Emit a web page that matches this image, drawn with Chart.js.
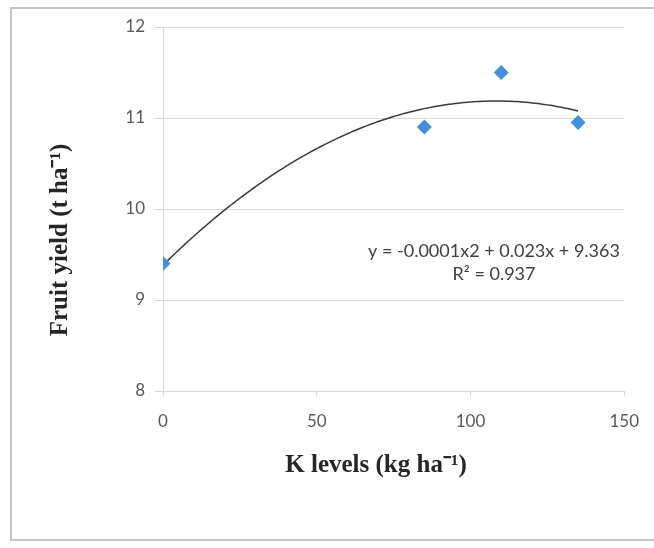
<!DOCTYPE html>
<html>
<head>
<meta charset="utf-8">
<script src="https://cdn.jsdelivr.net/npm/chart.js@4/dist/chart.umd.min.js"></script>
<style>
  html, body { margin: 0; padding: 0; background: #ffffff; }
  #wrap { width: 654px; height: 548px; position: relative; }
</style>
</head>
<body>
<div id="wrap"><canvas id="c" width="654" height="548"></canvas></div>
<script>
// Potassium level (kg/ha) and measured fruit yield (t/ha)
const kLevels = [0, 85, 110, 135];
const fruitYield = [9.4, 10.9, 11.5, 10.95];

// Axis ticks
const xTicks = [0, 50, 100, 150];
const yTicks = [8, 9, 10, 11, 12];

const xTitle = 'K levels (kg ha\u207B\u00B9)';
const yTitle = 'Fruit yield (t ha\u207B\u00B9)';
const eqLine1 = 'y = -0.0001x2 + 0.023x + 9.363';
const eqLine2 = 'R\u00B2 = 0.937';

// Second-order least-squares fit of yield on K level
function polyFit2(xs, ys) {
  const n = xs.length;
  let s = [0, 0, 0, 0, 0], t = [0, 0, 0];
  for (let i = 0; i < n; i++) {
    let p = 1;
    for (let k = 0; k <= 4; k++) { s[k] += p; if (k <= 2) t[k] += p * ys[i]; p *= xs[i]; }
  }
  const M = [[s[0], s[1], s[2], t[0]], [s[1], s[2], s[3], t[1]], [s[2], s[3], s[4], t[2]]];
  for (let i = 0; i < 3; i++) {
    for (let j = i + 1; j < 3; j++) {
      const f = M[j][i] / M[i][i];
      for (let k = i; k < 4; k++) M[j][k] -= f * M[i][k];
    }
  }
  const c = [0, 0, 0];
  for (let i = 2; i >= 0; i--) {
    let v = M[i][3];
    for (let k = i + 1; k < 3; k++) v -= M[i][k] * c[k];
    c[i] = v / M[i][i];
  }
  return c; // [c0, c1, c2]
}
const coef = polyFit2(kLevels, fruitYield);
const trend = [];
for (let x = kLevels[0]; x <= kLevels[kLevels.length - 1]; x += 1) {
  trend.push({ x: x, y: coef[0] + coef[1] * x + coef[2] * x * x });
}

const gridColor = '#d3d7df';
const tickFont = { family: 'Lato, "Open Sans", sans-serif', size: 17 };

const decorations = {
  id: 'decorations',
  beforeDraw(chart) {
    const ctx = chart.ctx;
    ctx.save();
    ctx.fillStyle = '#ffffff';
    ctx.fillRect(0, 0, chart.width, chart.height);
    ctx.strokeStyle = '#c4c4c4';
    ctx.lineWidth = 2;
    ctx.strokeRect(11, 8, 644, 532);
    ctx.restore();
  },
  afterDraw(chart) {
    const ctx = chart.ctx;
    ctx.save();
    ctx.fillStyle = '#262626';
    ctx.textAlign = 'center';
    ctx.textBaseline = 'middle';
    ctx.font = 'bold 25px "Liberation Serif", "Times New Roman", serif';
    ctx.fillText(xTitle, 376, 466);
    ctx.translate(61, 240);
    ctx.rotate(-Math.PI / 2);
    ctx.fillText(yTitle, 0, 0);
    ctx.restore();

    ctx.save();
    ctx.fillStyle = '#404040';
    ctx.textAlign = 'center';
    ctx.textBaseline = 'middle';
    ctx.font = '18px Lato, "Open Sans", sans-serif';
    ctx.fillText(eqLine1, 494, 251);
    ctx.fillText(eqLine2, 494, 274);
    ctx.restore();
  }
};

new Chart(document.getElementById('c'), {
  type: 'scatter',
  data: {
    datasets: [
      {
        label: 'Trend',
        type: 'line',
        data: trend,
        borderColor: '#3a3a3a',
        borderWidth: 1.5,
        pointRadius: 0,
        fill: false,
        tension: 0,
        order: 2
      },
      {
        label: 'Fruit yield',
        data: kLevels.map((x, i) => ({ x: x, y: fruitYield[i] })),
        pointStyle: 'rectRot',
        pointRadius: 7.5,
        pointHoverRadius: 7.5,
        backgroundColor: '#4590dc',
        borderColor: '#4590dc',
        borderWidth: 0,
        order: 1
      }
    ]
  },
  options: {
    responsive: false,
    animation: false,
    layout: { padding: { left: 0, top: 27, right: 27, bottom: 0 } },
    plugins: { legend: { display: false }, tooltip: { enabled: false } },
    scales: {
      x: {
        type: 'linear',
        min: 0,
        max: 150,
        afterBuildTicks(scale) { scale.ticks = xTicks.map(v => ({ value: v })); },
        afterFit(scale) { scale.height = 157; },
        grid: {
          drawOnChartArea: false,
          drawTicks: true,
          tickLength: 5,
          color: gridColor
        },
        border: { display: true, color: gridColor, width: 1 },
        ticks: { color: '#595959', font: tickFont, padding: 15, maxRotation: 0 }
      },
      y: {
        type: 'linear',
        min: 8,
        max: 12,
        afterBuildTicks(scale) { scale.ticks = yTicks.map(v => ({ value: v })); },
        afterFit(scale) { scale.width = 163; },
        grid: {
          color: gridColor,
          drawTicks: true,
          tickLength: 8
        },
        border: { display: true, color: gridColor, width: 1 },
        ticks: { color: '#595959', font: tickFont, padding: 10 }
      }
    }
  },
  plugins: [decorations]
});
</script>
</body>
</html>
